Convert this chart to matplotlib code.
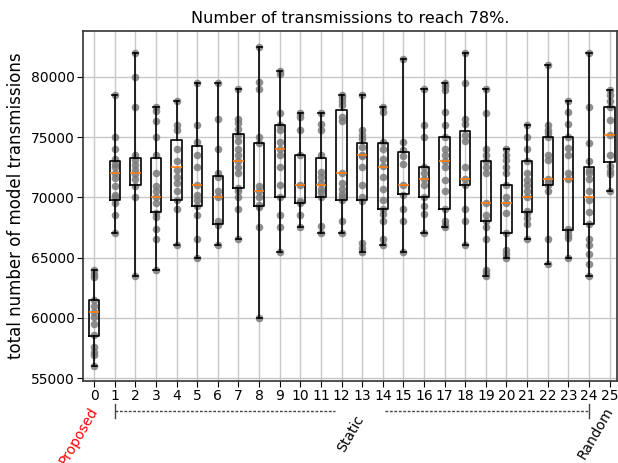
import matplotlib
matplotlib.use("Agg")
import matplotlib.pyplot as plt

positions = list(range(26))
tick_labels = [str(i) for i in positions]

q1 = [58500, 69750, 71000, 68750, 69750, 69250, 67750, 70750, 69300, 70000, 69500, 70000, 69750,
      69750, 69000, 70250, 70000, 69000, 71000, 68000, 67000, 68750, 71000, 67250, 67750, 72900]
med = [60500, 72000, 72000, 70000, 72500, 71000, 70000, 73000, 70500, 74000, 71000, 71000, 72000,
       73500, 72500, 71000, 71500, 73000, 71500, 69500, 69500, 70000, 71500, 71500, 70000, 75150]
q3 = [61500, 73000, 73250, 73250, 74750, 74250, 71750, 75250, 74500, 76000, 73500, 73250, 77250,
      74500, 74500, 73750, 72500, 75000, 75500, 73000, 71000, 73000, 75000, 75000, 72500, 77500]
wlo = [56000, 67000, 63500, 64000, 66000, 65000, 66000, 66500, 60000, 65500, 67500, 67000, 67000,
       65500, 66000, 65500, 67000, 67500, 66000, 63500, 65000, 66500, 64500, 65000, 63500, 70500]
whi = [64000, 78500, 82000, 77500, 78000, 79500, 79500, 79000, 82500, 80500, 77000, 77000, 78500,
       78500, 77500, 81500, 79000, 79500, 82000, 79000, 74000, 76000, 81000, 78000, 82000, 78900]

points = [
    [64000, 63600, 63400, 61500, 61000, 60500, 60100, 59500, 58600, 57600, 57200, 56900, 56000],
    [78500, 75000, 74000, 73200, 72800, 72500, 72000, 71600, 70900, 70200, 70000, 69500, 68500, 67000],
    [82000, 80000, 77500, 73500, 73100, 72700, 72300, 71900, 71500, 70900, 70000, 63500],
    [77500, 77200, 76300, 75000, 73500, 72000, 70900, 70500, 70000, 69500, 68700, 68400, 67400, 66500, 64000],
    [78000, 76000, 75600, 74000, 73000, 72300, 71700, 71200, 70500, 69800, 69000, 66000],
    [79500, 76000, 74600, 73500, 72500, 71000, 70200, 69800, 69300, 68500, 66500, 65000],
    [79500, 76500, 74000, 72000, 71700, 70500, 70000, 68000, 67700, 66000],
    [79000, 76500, 76200, 75700, 75200, 74700, 74000, 73500, 73000, 72500, 72000, 70800, 70500, 70000, 69000, 66500],
    [82500, 79600, 79000, 75000, 74500, 70900, 70500, 70000, 69400, 69200, 67500, 60000],
    [80500, 80200, 77000, 76000, 75600, 74600, 74000, 73500, 72500, 71000, 70000, 68500, 67500, 65500],
    [77000, 76700, 75600, 73500, 71000, 69700, 69500, 68500, 67500],
    [77000, 76100, 75600, 73500, 72100, 71700, 71200, 70700, 70400, 70000, 67600, 67000],
    [78500, 78300, 78000, 77700, 76700, 76300, 72000, 71200, 70700, 70300, 70000, 69800, 68000, 67000],
    [78500, 75600, 75200, 74800, 74200, 73500, 73400, 72500, 71000, 70000, 69700, 66200, 65800, 65500],
    [77500, 77100, 74600, 74000, 73200, 72600, 71700, 70700, 69800, 69000, 68600, 68000, 66500, 66000],
    [81500, 74600, 73900, 73400, 72800, 71000, 70200, 69000, 68000, 65500],
    [79000, 76000, 75000, 72500, 72000, 71500, 71000, 70000, 69300, 68600, 67000],
    [79500, 79200, 78900, 77100, 76000, 75000, 74000, 73500, 73000, 72500, 71400, 70500, 69000, 68000, 67700, 67500],
    [82000, 79500, 76500, 76100, 75200, 74700, 72500, 71500, 71000, 69000, 68000, 66000],
    [79000, 77000, 74000, 73500, 73000, 72500, 72000, 69500, 68500, 68000, 67500, 66500, 64000, 63700, 63500],
    [74000, 73500, 73100, 72500, 72000, 71000, 70000, 69500, 68700, 67000, 65600, 65300, 65000],
    [76000, 75000, 74000, 73000, 72000, 71400, 71000, 70500, 70000, 68900, 68700, 68300, 67800, 66500],
    [81000, 76000, 75600, 75300, 75000, 73500, 73100, 71500, 71300, 71000, 70500, 66500, 64500],
    [78000, 77100, 76100, 75000, 74100, 73500, 72000, 71500, 67400, 67200, 66900, 66600, 65000],
    [82000, 77500, 74500, 73000, 72300, 72000, 71500, 70500, 69800, 68800, 67800, 66500, 66000, 65300, 64500, 63500],
    [78900, 78500, 78000, 77500, 76400, 75200, 73500, 72600, 72200, 71900, 70500],
]

title = "Number of transmissions to reach 78%."
ylabel = "total number of model transmissions"
yticks = [55000, 60000, 65000, 70000, 75000, 80000]

fig = plt.figure(figsize=(6.18, 4.63), dpi=100)
ax = fig.add_axes([0.134, 0.177, 0.864, 0.756])

for p, vals in zip(positions, points):
    ax.scatter([p] * len(vals), vals, s=30, color="#7a7a7a", alpha=0.85,
               linewidths=0, zorder=2)

stats = []
for i in range(len(positions)):
    stats.append(dict(med=med[i], q1=q1[i], q3=q3[i], whislo=wlo[i], whishi=whi[i], fliers=[]))

ax.bxp(stats, positions=positions, widths=0.5, showfliers=False,
       boxprops=dict(color="black", linewidth=1.2),
       whiskerprops=dict(color="black", linewidth=1.2),
       capprops=dict(color="black", linewidth=1.2),
       medianprops=dict(color="#ff7f0e", linewidth=1.2),
       zorder=3)

ax.set_xlim(-0.55, 25.35)
ax.set_ylim(54750, 83800)
ax.set_xticks(positions)
ax.set_xticklabels(tick_labels, fontsize=10)
ax.set_yticks(yticks)
ax.set_yticklabels([str(v) for v in yticks], fontsize=10)
ax.grid(True, color="#c8c8c8", linewidth=1.0, zorder=0)
ax.set_axisbelow(True)
ax.set_title(title, fontsize=11.5)
ax.set_ylabel(ylabel, fontsize=12)
for s in ax.spines.values():
    s.set_color("#333333")
    s.set_linewidth(1.2)
ax.tick_params(axis="both", direction="out", length=4, pad=2)

trans = ax.get_xaxis_transform()
yl = -0.086
ax.plot([1, 11.7], [yl, yl], transform=trans, clip_on=False, color="#444444",
        linestyle=(0, (2, 1.2)), linewidth=1.0)
ax.plot([14.1, 24], [yl, yl], transform=trans, clip_on=False, color="#444444",
        linestyle=(0, (2, 1.2)), linewidth=1.0)
for xv in [1, 24]:
    ax.plot([xv, xv], [yl - 0.02, yl + 0.02], transform=trans, clip_on=False,
            color="#444444", linewidth=1.0)

ax.text(0.3, -0.068, "Proposed", transform=trans, rotation=60, ha="right", va="top",
        color="red", fontsize=10)
ax.text(13.2, -0.09, "Static", transform=trans, rotation=60, ha="right", va="top",
        color="black", fontsize=10)
ax.text(25.33, -0.068, "Random", transform=trans, rotation=60, ha="right", va="top",
        color="black", fontsize=10)

fig.savefig("out.png", dpi=100)
